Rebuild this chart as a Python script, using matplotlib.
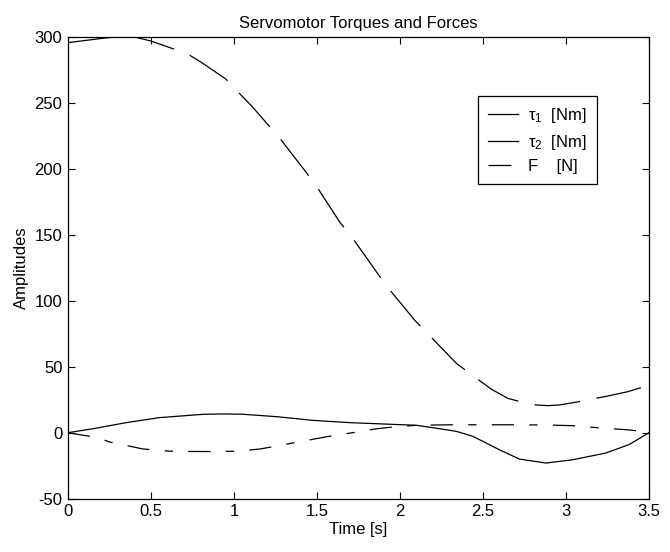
import numpy as np
import matplotlib
matplotlib.use("Agg")
import matplotlib.pyplot as plt
from matplotlib.lines import Line2D

plt.rcParams['font.family'] = ['Liberation Sans', 'DejaVu Sans']
plt.rcParams['lines.scale_dashes'] = False
plt.rcParams['axes.unicode_minus'] = False
plt.rcParams['mathtext.fontset'] = 'custom'
plt.rcParams['mathtext.rm'] = 'Liberation Sans'
plt.rcParams['mathtext.default'] = 'regular'

# Time samples [s]
t_F = [0.0, 0.19, 0.3, 0.41, 0.5, 0.63, 0.72, 0.81, 0.95, 1.01, 1.11, 1.2, 1.27, 1.43, 1.49,
       1.64, 1.70, 1.86, 1.92, 2.09, 2.16, 2.34, 2.43, 2.55, 2.65, 2.74, 2.82, 2.89, 2.96, 3.10, 3.24, 3.37, 3.5]
F = [295.5, 298.5, 300, 299.5, 296.7, 291, 287, 280, 268, 260, 247, 234, 224, 198, 188,
     159, 150, 121.5, 111, 85, 76, 52.5, 44, 33, 26, 23, 21, 20.5, 21, 24, 27.5, 31, 36]

t_tau1 = [0.0, 0.15, 0.35, 0.55, 0.81, 0.93, 1.05, 1.26, 1.48, 1.70, 1.9, 2.1, 2.24, 2.34, 2.44,
          2.6, 2.72, 2.88, 3.04, 3.24, 3.38, 3.5]
tau1 = [0.0, 3.0, 7.6, 11.4, 13.9, 14.2, 14.0, 12.1, 9.3, 7.6, 6.6, 5.6, 3.0, 1.0, -2.8,
        -13, -20, -23, -20.5, -15.4, -9, 0.0]

t_tau2 = [0.0, 0.18, 0.25, 0.45, 0.61, 0.73, 0.87, 1.02, 1.16, 1.36, 1.56, 1.74, 1.86, 1.98, 2.1, 2.3,
          2.5, 2.7, 2.9, 3.04, 3.19, 3.37, 3.5]
tau2 = [0.0, -3.8, -7, -12.3, -14, -14.2, -14.3, -14, -12.3, -7.7, -3, 0.5, 3, 4.6, 5.6, 6,
        6, 6, 5.8, 5.3, 3.8, 2.2, 0.5]

labels = ['τ$_1$  [Nm]', 'τ$_2$  [Nm]', 'F    [N]']

fig = plt.figure(figsize=(6.7, 5.52), dpi=100)
ax = fig.add_axes([68/670, 1 - 498.7/552, (649-68)/670, (498.7-36.7)/552])

lw = 0.9
ax.plot(t_tau1, tau1, color='black', lw=lw)
ax.plot(t_tau2, tau2, color='black', lw=lw, dashes=(16, 11, 6, 11))
ax.plot(t_F, F, color='black', lw=lw, dashes=(33, 12))

ax.set_xlim(0, 3.5)
ax.set_ylim(-50, 300)
ax.set_xticks(np.arange(0, 3.51, 0.5))
ax.set_xticklabels(['0', '0.5', '1', '1.5', '2', '2.5', '3', '3.5'])
ax.set_yticks(np.arange(-50, 301, 50))
ax.tick_params(direction='in', top=True, right=True, length=5, width=0.8,
               labelsize=12, pad=4)
for s in ax.spines.values():
    s.set_linewidth(0.9)

ax.set_title('Servomotor Torques and Forces', fontsize=12, pad=6)
ax.set_xlabel('Time [s]', fontsize=12, labelpad=2)
ax.set_ylabel('Amplitudes', fontsize=12, labelpad=4)

handles = [Line2D([], [], color='black', lw=lw),
           Line2D([], [], color='black', lw=lw),
           Line2D([], [], color='black', lw=lw, dashes=(16.5, 20))]
leg = ax.legend(handles, labels, loc='upper right', bbox_to_anchor=(597/670, 1 - 96/552),
                bbox_transform=fig.transFigure, borderaxespad=0, fancybox=False,
                edgecolor='black', framealpha=1, fontsize=12, handlelength=1.8,
                handletextpad=0.6, labelspacing=0.45, borderpad=0.6)
leg.get_frame().set_linewidth(0.9)

fig.savefig('out.png', dpi=100)
